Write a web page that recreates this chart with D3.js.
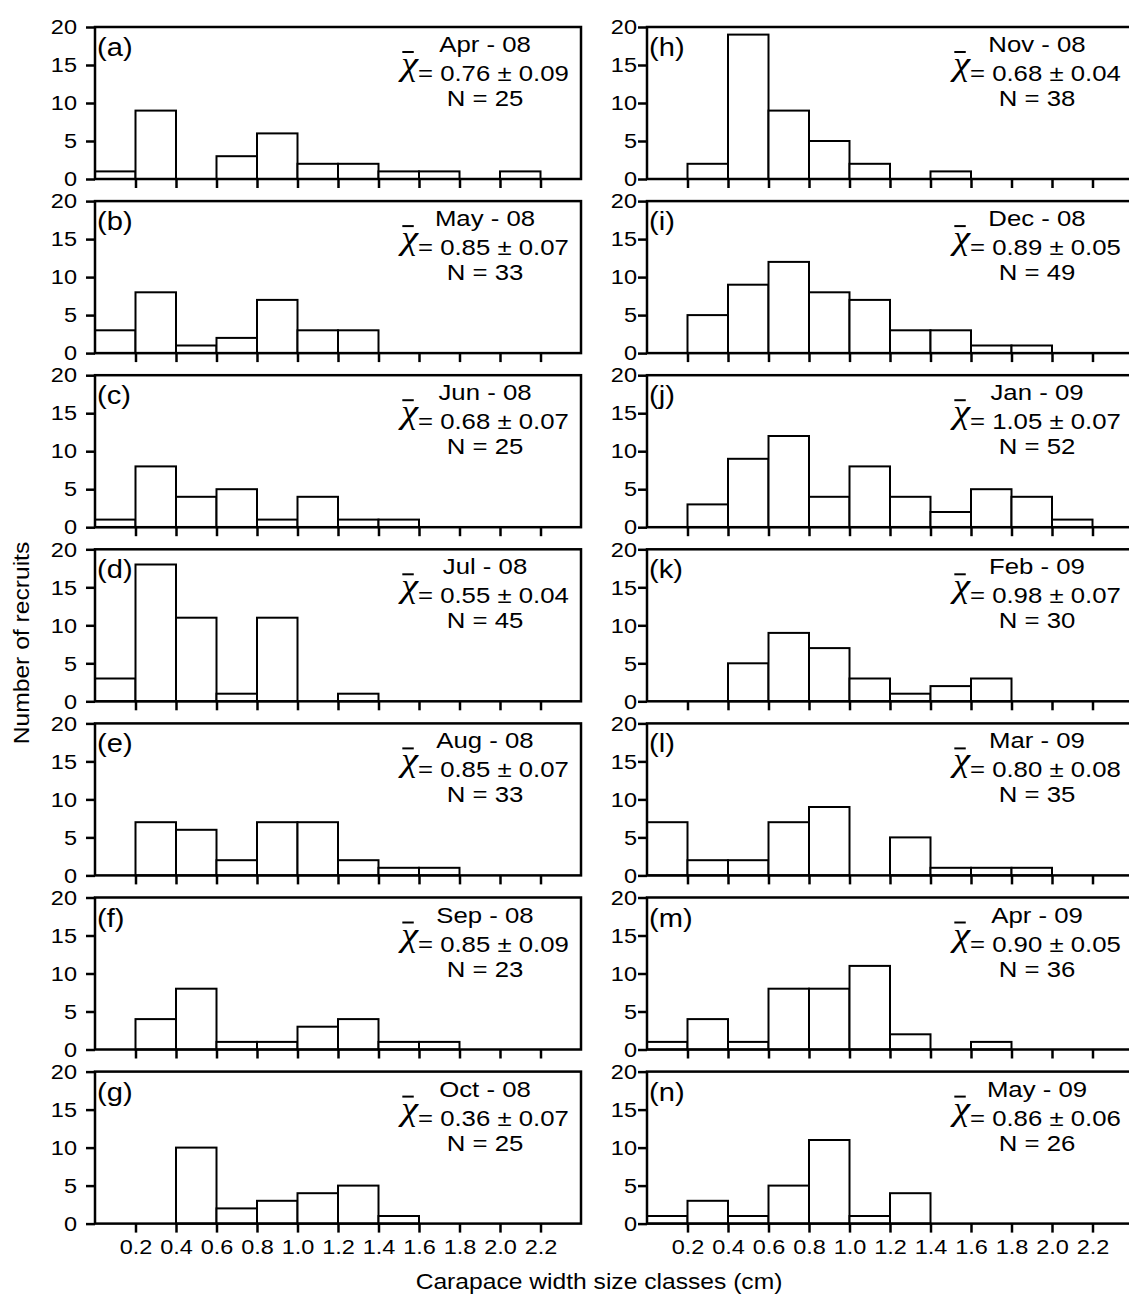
<!DOCTYPE html>
<html>
<head>
<meta charset="utf-8">
<script src="https://cdn.jsdelivr.net/npm/d3@7"></script>
<style>
  body { margin: 0; background: #fff; }
  svg text { font-family: "Liberation Sans", Arial, sans-serif; fill: #000; }
</style>
</head>
<body>
<svg id="chart" width="1129" height="1296"></svg>
<script>
// panel data (bins of 0.2 cm from 0 to 2.4)
const labels = ["(a)", "(b)", "(c)", "(d)", "(e)", "(f)", "(g)",
                "(h)", "(i)", "(j)", "(k)", "(l)", "(m)", "(n)"]
const months = ["Apr - 08", "May - 08", "Jun - 08", "Jul - 08", "Aug - 08", "Sep - 08", "Oct - 08",
                "Nov - 08", "Dec - 08", "Jan - 09", "Feb - 09", "Mar - 09", "Apr - 09", "May - 09"]
const means = ["0.76 ± 0.09", "0.85 ± 0.07", "0.68 ± 0.07", "0.55 ± 0.04", "0.85 ± 0.07", "0.85 ± 0.09", "0.36 ± 0.07",
               "0.68 ± 0.04", "0.89 ± 0.05", "1.05 ± 0.07", "0.98 ± 0.07", "0.80 ± 0.08", "0.90 ± 0.05", "0.86 ± 0.06"]
const ns = [25, 33, 25, 45, 33, 23, 25, 38, 49, 52, 30, 35, 36, 26]
const counts = [
  [1, 9, 0, 3, 6, 2, 2, 1, 1, 0, 1, 0],
  [3, 8, 1, 2, 7, 3, 3, 0, 0, 0, 0, 0],
  [1, 8, 4, 5, 1, 4, 1, 1, 0, 0, 0, 0],
  [3, 18, 11, 1, 11, 0, 1, 0, 0, 0, 0, 0],
  [0, 7, 6, 2, 7, 7, 2, 1, 1, 0, 0, 0],
  [0, 4, 8, 1, 1, 3, 4, 1, 1, 0, 0, 0],
  [0, 0, 10, 2, 3, 4, 5, 1, 0, 0, 0, 0],
  [0, 2, 19, 9, 5, 2, 0, 1, 0, 0, 0, 0],
  [0, 5, 9, 12, 8, 7, 3, 3, 1, 1, 0, 0],
  [0, 3, 9, 12, 4, 8, 4, 2, 5, 4, 1, 0],
  [0, 0, 5, 9, 7, 3, 1, 2, 3, 0, 0, 0],
  [7, 2, 2, 7, 9, 0, 5, 1, 1, 1, 0, 0],
  [1, 4, 1, 8, 8, 11, 2, 0, 1, 0, 0, 0],
  [1, 3, 1, 5, 11, 1, 4, 0, 0, 0, 0, 0]
]
const xTicks = [0.2, 0.4, 0.6, 0.8, 1.0, 1.2, 1.4, 1.6, 1.8, 2.0, 2.2]
const yTicks = [0, 5, 10, 15, 20]
const binWidth = 0.2

const svg = d3.select("#chart")
const colLeft = [95, 647]
const panelW = 486, panelH = 152, top0 = 27, rowStep = 174.1
const sx = 1.12  // the figure's lettering is a bit wider than Arial

// stretched text anchored at (x, y)
function wideText(g, x, y, size, str, anchor) {
  return g.append("text")
    .attr("transform", `translate(${x}, ${y}) scale(${sx}, 1)`)
    .attr("text-anchor", anchor || "start")
    .attr("font-size", size)
    .text(str)
}

function drawPanel(i) {
  let col = i < 7 ? 0 : 1
  let row = i % 7
  let left = colLeft[col]
  let top = top0 + row * rowStep
  let x = d3.scaleLinear().domain([0, 2.4]).range([left, left + panelW])
  let y = d3.scaleLinear().domain([0, 20]).range([top + panelH, top])
  let g = svg.append("g")

  let bars = counts[i].map((v, k) => ({x0: k * binWidth, x1: (k + 1) * binWidth, v: v}))
    .filter(d => d.v > 0)
  g.selectAll("rect.bar")
    .data(bars).enter()
    .append("rect")
    .attr("class", "bar")
    .attr("x", d => x(d.x0))
    .attr("y", d => y(d.v))
    .attr("width", d => x(d.x1) - x(d.x0))
    .attr("height", d => y(0) - y(d.v))
    .attr("fill", "#fff")
    .attr("stroke", "#000")
    .attr("stroke-width", 2)

  // frame
  g.append("rect")
    .attr("x", left).attr("y", top)
    .attr("width", panelW).attr("height", panelH)
    .attr("fill", "none").attr("stroke", "#000").attr("stroke-width", 2.5)

  let xAxis = d3.axisBottom(x).tickValues(xTicks).tickSize(9).tickPadding(6)
    .tickFormat(row === 6 ? d3.format(".1f") : "")
  let gx = g.append("g").attr("transform", `translate(0, ${top + panelH})`).call(xAxis)
  gx.select(".domain").remove()
  gx.selectAll("line").attr("stroke-width", 2.5)
  gx.selectAll("text").attr("font-size", 21)
    .style("font-family", "Liberation Sans, Arial, sans-serif")
    .attr("transform", `scale(${sx}, 1)`)

  let yAxis = d3.axisLeft(y).tickValues(yTicks).tickSize(9).tickPadding(col === 0 ? 9 : 1)
  let gy = g.append("g").attr("transform", `translate(${left}, 0)`).call(yAxis)
  gy.select(".domain").remove()
  gy.selectAll("line").attr("stroke-width", 2.5)
  gy.selectAll("text").attr("font-size", 21)
    .style("font-family", "Liberation Sans, Arial, sans-serif")
    .attr("x", function() { return +d3.select(this).attr("x") / sx })
    .attr("transform", `scale(${sx}, 1)`)

  // panel letter
  wideText(g, left + 2, top + 29, 26, labels[i])

  // annotation block
  let cx = left + 390
  wideText(g, cx, top + 25, 23, months[i], "middle")
  let t2 = wideText(g, cx, top + 54, 23, null, "middle")
  t2.append("tspan").attr("font-family", "Liberation Serif, serif").attr("font-style", "italic")
    .attr("font-size", 34).attr("dy", -6).text("χ")
  t2.append("tspan").attr("dy", 6).text("= " + means[i])
  let chi = t2.node().getExtentOfChar(0)
  g.append("line")
    .attr("x1", cx + (chi.x + 1) * sx).attr("x2", cx + (chi.x + chi.width * 0.75) * sx)
    .attr("y1", top + 25).attr("y2", top + 25)
    .attr("stroke", "#000").attr("stroke-width", 2)
  wideText(g, cx, top + 79, 23, "N = " + ns[i], "middle")
}

for (let i = 0; i < labels.length; i++) drawPanel(i)

svg.append("text")
  .attr("transform", `translate(29, 643) rotate(-90) scale(${sx}, 1)`)
  .attr("text-anchor", "middle").attr("font-size", 22)
  .text("Number of recruits")

wideText(svg, 599, 1289, 22, "Carapace width size classes (cm)", "middle")
</script>
</body>
</html>
